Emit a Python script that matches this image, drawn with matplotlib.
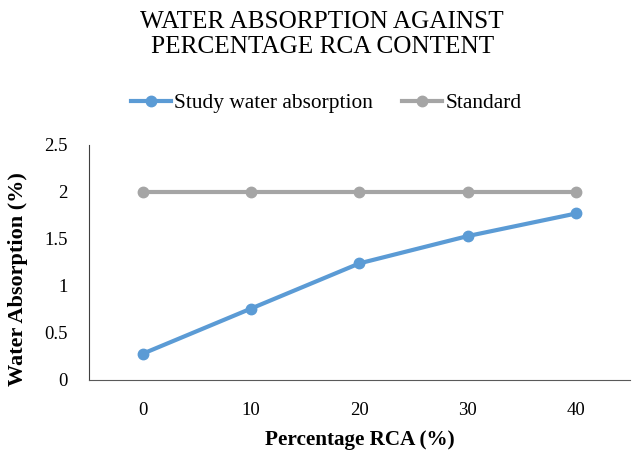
import matplotlib.pyplot as plt

plt.rcParams['font.family'] = ['Liberation Serif', 'DejaVu Serif']

rca_content = ['0', '10', '20', '30', '40']
study_absorption = [0.28, 0.76, 1.24, 1.53, 1.77]
standard = [2, 2, 2, 2, 2]
y_ticks = [0, 0.5, 1, 1.5, 2, 2.5]

fig = plt.figure(figsize=(6.34, 4.54), dpi=100)
ax = fig.add_axes([0.140, 0.163, 0.854, 0.518])

x = range(len(rca_content))
ax.plot(x, study_absorption, marker='o', linestyle='-', color='#5b9bd5',
        linewidth=3, markersize=7.5, label='Study water absorption')
ax.plot(x, standard, marker='o', linestyle='-', color='#a5a5a5',
        linewidth=3, markersize=7.5, label='Standard')

ax.set_xlim(-0.5, len(rca_content) - 0.5)
ax.set_ylim(0, 2.5)
ax.set_xticks(list(x))
ax.set_xticklabels(rca_content)
ax.set_yticks(y_ticks)
ax.set_yticklabels([f'{t:g}' for t in y_ticks])
ax.tick_params(length=0, labelsize=13.5)
ax.tick_params(axis='x', pad=16)
ax.tick_params(axis='y', pad=15)

for side in ['top', 'right']:
    ax.spines[side].set_visible(False)
ax.spines['left'].set_color('#404040')
ax.spines['left'].set_linewidth(0.8)
ax.spines['bottom'].set_color('#595959')

ax.set_xlabel('Percentage RCA (%)', fontsize=15.2, fontweight='bold', labelpad=8)
ax.set_ylabel('Water Absorption (%)', fontsize=16, fontweight='bold')
ax.yaxis.set_label_coords(-0.112, 0.43)

fig.text(0.508, 0.9515, 'WATER ABSORPTION AGAINST',
         ha='center', va='center', fontsize=18.2)
fig.text(0.508, 0.8965, 'PERCENTAGE RCA CONTENT',
         ha='center', va='center', fontsize=18.2)

fig.legend(loc='center', bbox_to_anchor=(0.515, 0.773), ncol=2, frameon=False,
           fontsize=15.4, handlelength=1.87, columnspacing=1.36, handletextpad=0.15)

plt.savefig('out.png')
plt.close()
